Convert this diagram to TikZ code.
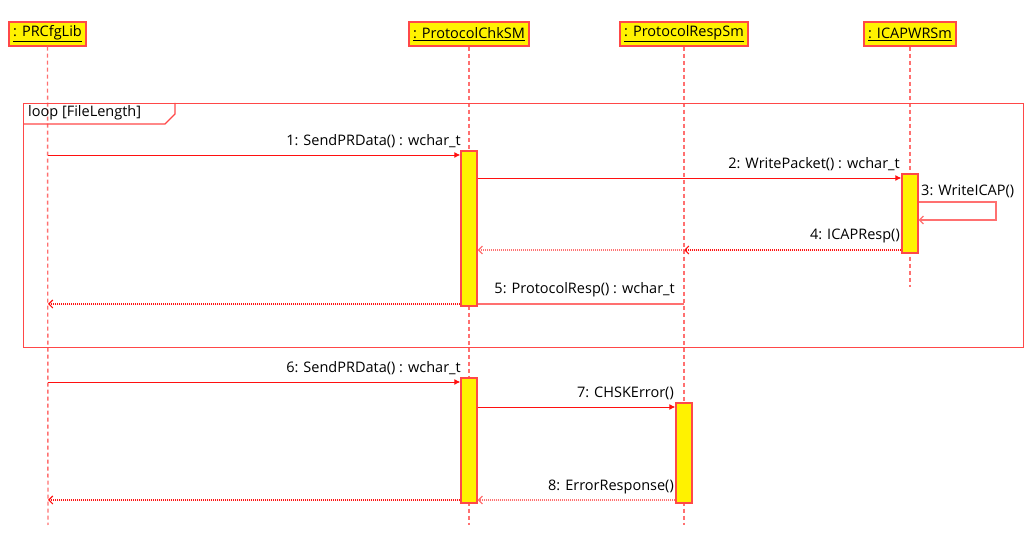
\documentclass[tikz,border=0pt]{standalone}
\usepackage{fontspec}
\setmainfont{Open Sans}
\usetikzlibrary{arrows.meta}
\definecolor{edge}{HTML}{FF4848}
\definecolor{callred}{HTML}{FF1010}
\definecolor{lifepink}{HTML}{FF7070}
\begin{document}
\begin{tikzpicture}[x=1pt,y=-1pt,
  head/.style={draw=edge,fill=yellow,line width=1.5pt,inner xsep=4pt,
    minimum height=24pt,font=\fontsize{14.5}{16}\selectfont},
  act/.style={draw=edge,fill=yellow,line width=1.4pt,minimum width=16pt,inner sep=0pt},
  life/.style={draw=lifepink,line width=1.4pt,dash pattern=on 4pt off 3pt},
  call/.style={draw=callred,line width=0.9pt,-{Latex[length=6pt,width=6pt]}},
  plain/.style={draw=lifepink,line width=1.4pt},
  ret/.style={draw=callred,line width=1.1pt,dash pattern=on 1pt off 1pt,
    -{Straight Barb[length=4pt,width=8pt]}},
  retlight/.style={draw=lifepink,line width=1.1pt,dash pattern=on 1pt off 1pt,
    -{Straight Barb[length=4pt,width=8pt]}},
  lbl/.style={font=\fontsize{14.5}{16}\selectfont,inner sep=0pt},
  fragment/.style={draw=edge,line width=1.4pt}]
\useasboundingbox (0,0) rectangle (1029,534);

% participants
\node[head] (lib) at (47.5,34) {\underline{: PRCfgLib}};
\node[head] (chk) at (469,34) {\underline{: ProtocolChkSM}};
\node[head] (rsp) at (684,34) {\underline{: ProtocolRespSm}};
\node[head] (icap) at (910,34) {\underline{: ICAPWRSm}};

\coordinate (libend) at (48,525);
\coordinate (chkend) at (469,525);
\coordinate (rspend) at (684,525);
\coordinate (icapend) at (910,287);
\draw[life] (lib.south) -- (libend);
\draw[life] (chk.south) -- (chkend);
\draw[life] (rsp.south) -- (rspend);
\draw[life] (icap.south) -- (icapend);

% loop fragment
\node[fragment,anchor=north west,minimum width=1000pt,minimum height=244pt,inner sep=0pt] (loop) at (23,103) {};
\draw[fragment] (23,124) -- (165,124) -- (175,114) -- (175,103);
\node[lbl,anchor=west] (looplbl) at (28,113) {loop [FileLength]};

% activations
\node[act,minimum height=155pt] (a1) at (469,228.5) {};
\node[act,minimum height=79pt] (a2) at (910,213.5) {};
\node[act,minimum height=125pt] (a3) at (469,440.5) {};
\node[act,minimum height=100pt] (a4) at (684,453) {};

% message endpoints on lifelines
\coordinate (m1) at (48,155);
\coordinate (m4) at (684,250);
\coordinate (m5) at (684,304);
\coordinate (m5l) at (48,304);
\coordinate (m6) at (48,382);
\coordinate (m8l) at (48,500);
\coordinate (s1) at (996,202);
\coordinate (s2) at (996,220);

% 1
\draw[call] (m1) -- (a1.west |- m1);
\node[lbl,anchor=south east] (t1) at (461,148) {1: SendPRData() : wchar\_t};
% 2
\draw[call] (a1.east |- 0,178) coordinate (m2) -- (a2.west |- m2);
\node[lbl,anchor=south east] (t2) at (900,171) {2: WritePacket() : wchar\_t};
% 3 self call
\draw[plain,line width=1.1pt,-{Straight Barb[length=4pt,width=8pt]}] (a2.east |- s1) -- (s1) -- (s2) -- (a2.east |- s2);
\node[lbl,anchor=south west] (t3) at (921,198) {3: WriteICAP()};
% 4
\draw[ret] (a2.west |- m4) -- (m4);
\draw[retlight] (m4) -- (a1.east |- m4);
\node[lbl,anchor=south east] (t4) at (900,243) {4: ICAPResp()};
% 5
\draw[plain] (m5) -- (a1.east |- m5);
\draw[ret] (a1.west |- m5) -- (m5l);
\node[lbl,anchor=south east] (t5) at (675,297) {5: ProtocolResp() : wchar\_t};
% 6
\draw[call] (m6) -- (a3.west |- m6);
\node[lbl,anchor=south east] (t6) at (461,375) {6: SendPRData() : wchar\_t};
% 7
\draw[call] (a3.east |- 0,407) coordinate (m7) -- (a4.west |- m7);
\node[lbl,anchor=south east] (t7) at (674,400) {7: CHSKError()};
% 8
\draw[retlight] (a4.west |- 0,500) coordinate (m8) -- (a3.east |- m8);
\draw[ret] (a3.west |- m8) -- (m8l);
\node[lbl,anchor=south east] (t8) at (674,494) {8: ErrorResponse()};
\end{tikzpicture}
\end{document}
